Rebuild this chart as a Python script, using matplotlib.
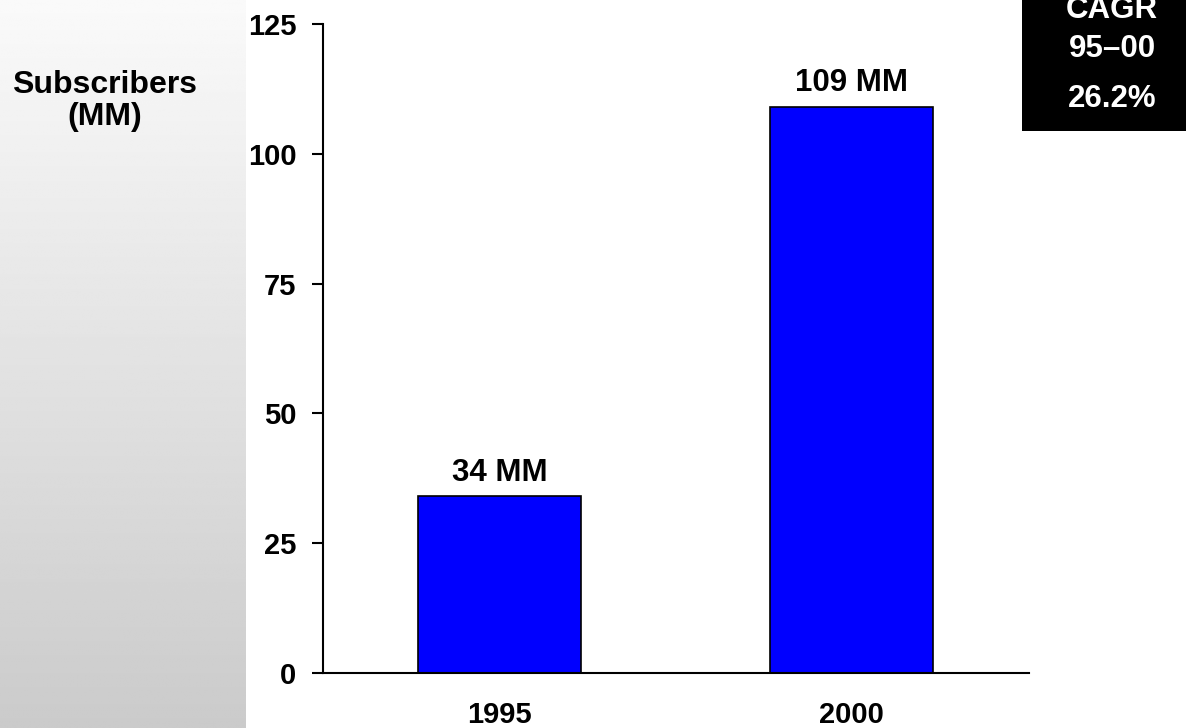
import numpy as np
import matplotlib
matplotlib.use("Agg")
import matplotlib.pyplot as plt
from matplotlib.patches import Rectangle

plt.rcParams['font.family'] = ['Liberation Sans', 'DejaVu Sans']
plt.rcParams['font.weight'] = 'bold'

# datos del gráfico
years = ['1995', '2000']
subscribers = [34, 109]
bar_labels = ['34 MM', '109 MM']
yticks = [0, 25, 50, 75, 100, 125]
cagr_lines = ['CAGR', '95\u201300', '26.2%']

W, H = 1186, 728
fig = plt.figure(figsize=(W / 100, H / 100), dpi=100)
fig.patch.set_facecolor('white')

# panel gris con degradado a la izquierda
bg = fig.add_axes([0, 0, 246 / W, 1])
grad = np.linspace(0.98, 0.795, 256).reshape(-1, 1)
bg.imshow(grad, aspect='auto', cmap='gray', vmin=0, vmax=1,
          extent=[0, 1, 0, 1], origin='upper', interpolation='bilinear')
bg.set_axis_off()

ax = fig.add_axes([323 / W, (H - 673) / H, (1029 - 323) / W, (673 - 24) / H])
x = np.arange(len(years))
bars = ax.bar(x, subscribers, width=0.464, color='#0000ff',
              edgecolor='black', linewidth=1.2, zorder=2)
for b, lab in zip(bars, bar_labels):
    ax.text(b.get_x() + b.get_width() / 2, b.get_height() + 3.0, lab,
            ha='center', va='baseline', fontsize=22.5, fontweight='bold')

ax.set_xlim(-0.502, 1.506)
ax.set_ylim(0, 125)
ax.set_yticks(yticks)
ax.set_yticklabels([str(v) for v in yticks], fontsize=21, fontweight='bold')
ax.set_xticks(x)
ax.set_xticklabels(years, fontsize=21, fontweight='bold')
ax.tick_params(axis='y', length=8, width=1.5, pad=11)
ax.tick_params(axis='x', length=0, pad=20)
for side in ['top', 'right']:
    ax.spines[side].set_visible(False)
for side in ['left', 'bottom']:
    ax.spines[side].set_linewidth(1.5)

fig.text(105 / W, 1 - 93 / H, 'Subscribers', ha='center', va='baseline',
         fontsize=23, fontweight='bold')
fig.text(105 / W, 1 - 125 / H, '(MM)', ha='center', va='baseline',
         fontsize=23, fontweight='bold')

# recuadro CAGR
fig.patches.append(Rectangle((1022 / W, 1 - 131 / H), (W - 1022) / W, 131 / H,
                             transform=fig.transFigure, facecolor='black',
                             edgecolor='none', zorder=3))
for txt, base in zip(cagr_lines, [18, 57, 107]):
    fig.text(1112 / W, 1 - base / H, txt, ha='center', va='baseline',
             color='white', fontsize=22.5, fontweight='bold', zorder=4)

fig.savefig('out.png', dpi=100)
